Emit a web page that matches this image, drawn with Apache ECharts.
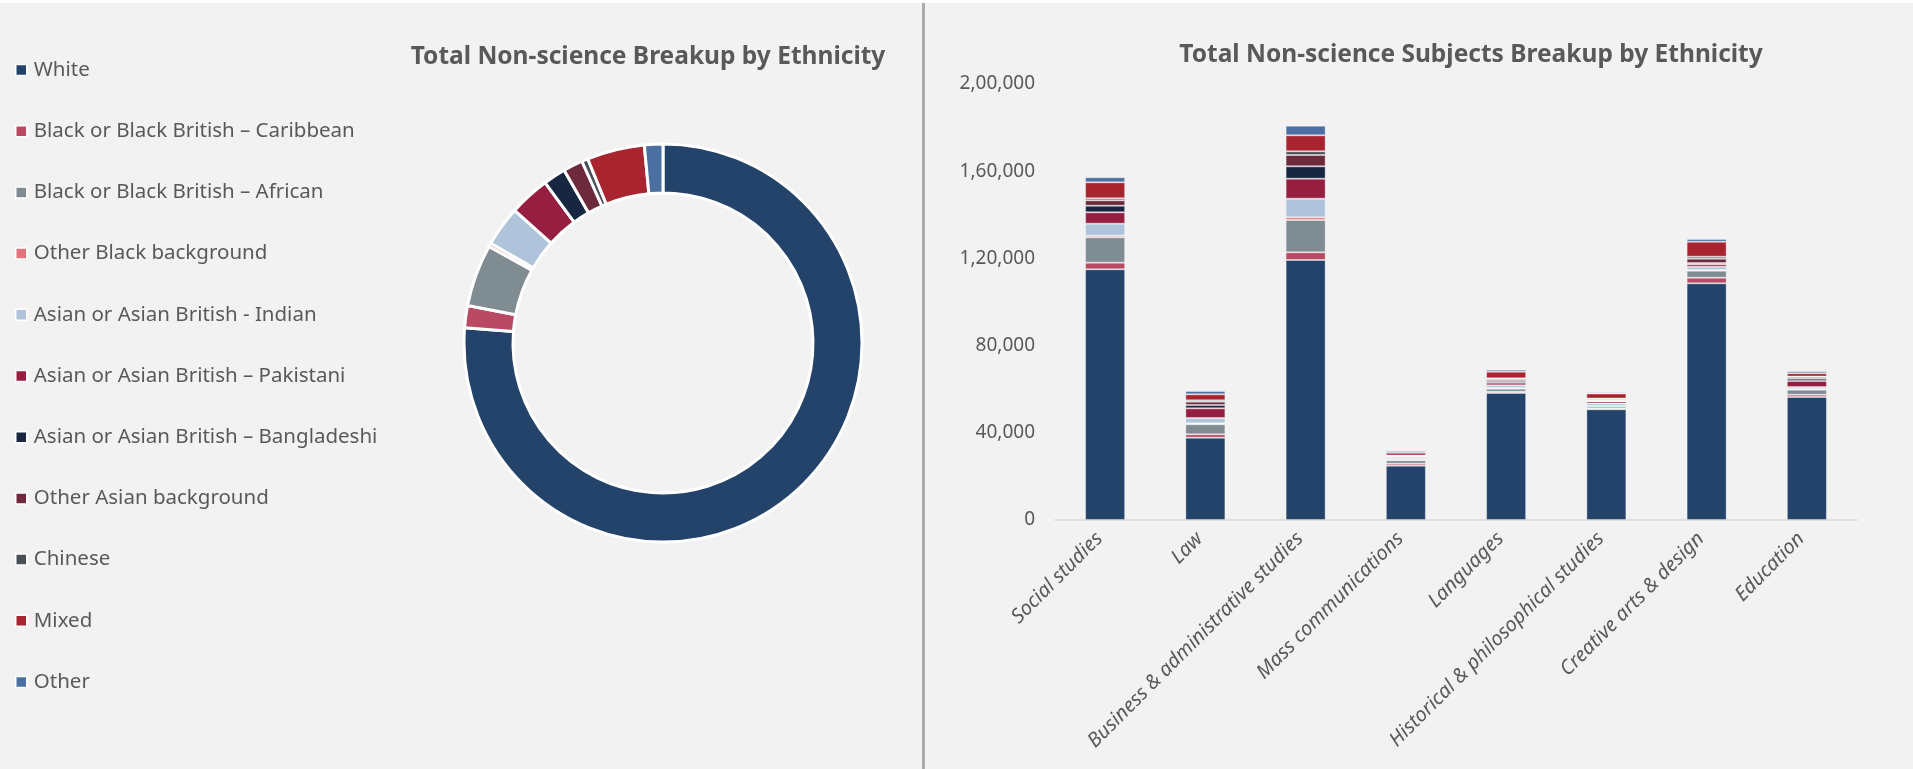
<!DOCTYPE html>
<html>
<head>
<meta charset="utf-8">
<script src="https://cdn.jsdelivr.net/npm/echarts@6/dist/echarts.min.js"></script>
<style>
  html, body { margin: 0; padding: 0; background: #F2F2F2; }
  #chart { width: 1913px; height: 769px; }
</style>
</head>
<body>
<div id="chart"></div>
<script>
// ---- Data ----
const ethnicities = [
  "White",
  "Black or Black British – Caribbean",
  "Black or Black British – African",
  "Other Black background",
  "Asian or Asian British - Indian",
  "Asian or Asian British – Pakistani",
  "Asian or Asian British – Bangladeshi",
  "Other Asian background",
  "Chinese",
  "Mixed",
  "Other"
];
const colors = ["#23436A", "#B94A64", "#7F8C92", "#E4737C", "#AFC3DA", "#961E40",
                "#172742", "#6E2A3D", "#4A5055", "#A8252F", "#4A6FA0"];

// Pie totals
const pieTotals = [564000, 13200, 37400, 2200, 24000, 24400, 13500, 11800, 3700, 34600, 11100];

const subjects = ["Social studies", "Law", "Business & administrative studies", "Mass communications",
                  "Languages", "Historical & philosophical studies", "Creative arts & design", "Education"];

// Bar values per ethnicity, one entry per subject (same order as subjects)
const white       = [115000, 37760, 119270, 24920, 58260, 50770, 108560, 56420];
const caribbean   = [3060, 1530, 3520, 920, 610, 460, 2600, 1070];
const african     = [11600, 4590, 14830, 1530, 1380, 920, 3210, 2290];
const otherBlack  = [770, 460, 1220, 300, 300, 200, 300, 300];
const indian      = [5500, 2450, 8560, 610, 1220, 1070, 1530, 920];
const pakistani   = [5200, 4430, 9170, 610, 1220, 920, 1070, 2750];
const bangladeshi = [3060, 1530, 5660, 300, 760, 460, 610, 1070];
const otherAsian  = [2450, 1530, 5200, 300, 760, 610, 1990, 760];
const chinese     = [920, 610, 1680, 150, 460, 300, 920, 200];
const mixed       = [7340, 2750, 7340, 1220, 3060, 2290, 6880, 1530];
const other       = [2290, 1530, 4430, 760, 920, 610, 1220, 920];

const barValues = [white, caribbean, african, otherBlack, indian, pakistani,
                   bangladeshi, otherAsian, chinese, mixed, other];

const yTicks = { min: 0, max: 200000, interval: 40000 };

// ---- Helpers ----
function indianFormat(v) {
  const s = String(Math.round(v));
  if (s.length <= 3) return s;
  const last3 = s.slice(-3);
  let rest = s.slice(0, -3);
  const parts = [];
  while (rest.length > 2) { parts.unshift(rest.slice(-2)); rest = rest.slice(0, -2); }
  if (rest.length) parts.unshift(rest);
  return parts.join(",") + "," + last3;
}

const FONT = "'Noto Sans', 'Open Sans', sans-serif";
const TXT = "#595959";

const chart = echarts.init(document.getElementById('chart'), null, { renderer: 'canvas' });

const series = [{
  type: 'pie',
  name: 'Total',
  center: [663, 343],
  radius: [150, 199],
  startAngle: 90,
  clockwise: true,
  avoidLabelOverlap: false,
  label: { show: false },
  labelLine: { show: false },
  silent: true,
  itemStyle: { borderColor: '#FFFFFF', borderWidth: 3 },
  data: ethnicities.map((n, i) => ({ name: n, value: pieTotals[i], itemStyle: { color: colors[i] } }))
}];

ethnicities.forEach((n, i) => {
  series.push({
    type: 'bar',
    name: n,
    stack: 'total',
    barWidth: 40,
    silent: true,
    itemStyle: { color: colors[i], borderColor: 'rgba(255,255,255,0.35)', borderWidth: 1 },
    data: barValues[i]
  });
});

const option = {
  backgroundColor: '#F2F2F2',
  animation: false,
  color: colors,
  title: [
    { text: 'Total Non-science Breakup by Ethnicity', left: 643, top: 40, textAlign: 'center',
      textStyle: { fontFamily: FONT, fontWeight: 'bold', fontSize: 24.5, color: TXT } },
    { text: 'Total Non-science Subjects Breakup by Ethnicity', left: 1466, top: 38, textAlign: 'center',
      textStyle: { fontFamily: FONT, fontWeight: 'bold', fontSize: 24.5, color: TXT } }
  ],
  legend: {
    orient: 'vertical',
    left: 10,
    top: 54,
    itemWidth: 11,
    itemHeight: 11,
    itemGap: 39.2,
    icon: 'rect',
    selectedMode: false,
    data: ethnicities,
    itemStyle: { borderColor: '#FFFFFF', borderWidth: 1.5 },
    textStyle: { fontFamily: FONT, fontSize: 20.5, color: TXT, lineHeight: 22, padding: [0, 0, 0, 2] }
  },
  grid: { left: 1055, top: 84, width: 802, height: 436, containLabel: false },
  xAxis: {
    type: 'category',
    data: subjects,
    axisLine: { show: true, lineStyle: { color: '#D9D9D9', width: 1.5 } },
    axisTick: { show: false },
    axisLabel: {
      rotate: 45, interval: 0, margin: 10,
      fontFamily: FONT, fontSize: 20, fontStyle: 'italic', color: TXT,
      padding: [0, 8, 14, 0]
    }
  },
  yAxis: {
    type: 'value',
    min: yTicks.min, max: yTicks.max, interval: yTicks.interval,
    splitLine: { show: false },
    axisLine: { show: false },
    axisTick: { show: false },
    axisLabel: { formatter: indianFormat, margin: 20, fontFamily: FONT, fontSize: 19, color: TXT }
  },
  graphic: [
    { type: 'rect', shape: { x: 922, y: 0, width: 3, height: 769 }, style: { fill: '#ABABAB' }, silent: true },
    { type: 'rect', shape: { x: 0, y: 0, width: 1913, height: 3 }, style: { fill: '#FFFFFF' }, silent: true }
  ],
  series: series
};

chart.setOption(option);
</script>
</body>
</html>
